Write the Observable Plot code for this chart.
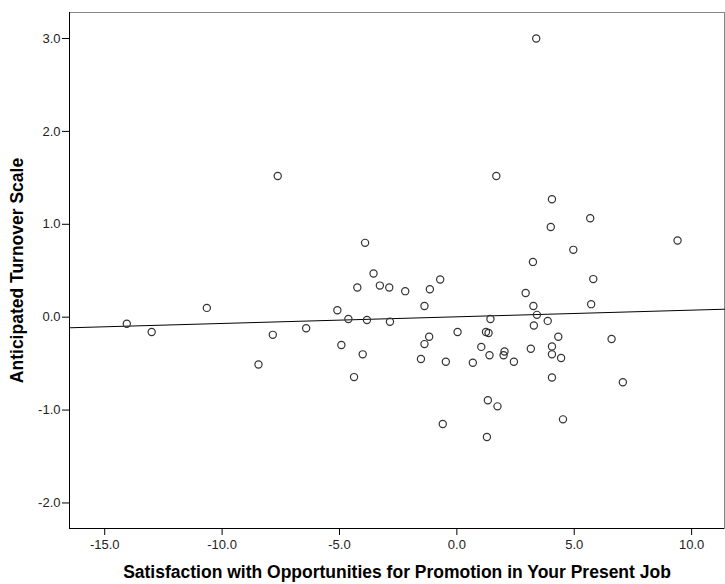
<!DOCTYPE html>
<html>
<head>
<meta charset="utf-8">
<script src="https://cdn.jsdelivr.net/npm/d3@7"></script>
<script src="https://cdn.jsdelivr.net/npm/@observablehq/plot@0.6"></script>
<style>
  html, body { margin: 0; padding: 0; background: #fff; }
</style>
</head>
<body>
<div id="chart"></div>
<script>
// Satisfaction with Opportunities for Promotion (x) vs Anticipated Turnover Scale (y)
const satisfaction = [
  -14.06, -13.0, -10.65, -7.63, -7.84, -8.45, -6.42,
  -5.09, -4.92, -4.62, -4.38, -4.01, -3.83, -2.85, -4.24, -3.91, -3.55, -3.28, -2.88, -2.20,
  -0.71, -1.15, -1.38, -1.18, -1.38, -1.53, -0.47, -0.60, 0.03, 0.68, 1.04, 1.24, 1.35, 1.43,
  1.39, 2.03, 1.99, 2.43, 1.32, 1.73, 1.28, 1.68, 3.38,
  2.93, 3.26, 3.41, 3.28, 3.87, 3.15, 4.32, 4.05, 4.05, 4.44, 4.05, 4.52, 7.07, 6.59, 5.72,
  5.81, 3.24, 4.96, 4.0, 5.68, 4.05, 9.40
];
const turnover = [
  -0.07, -0.16, 0.10, 1.52, -0.19, -0.51, -0.12,
  0.075, -0.30, -0.02, -0.645, -0.40, -0.03, -0.05, 0.32, 0.80, 0.47, 0.34, 0.32, 0.28,
  0.405, 0.30, 0.12, -0.21, -0.29, -0.45, -0.48, -1.15, -0.16, -0.49, -0.32, -0.16, -0.17, -0.02,
  -0.41, -0.37, -0.41, -0.48, -0.895, -0.96, -1.29, 1.52, 3.0,
  0.26, 0.12, 0.025, -0.09, -0.04, -0.34, -0.21, -0.315, -0.40, -0.44, -0.65, -1.10, -0.70, -0.235, 0.14,
  0.41, 0.595, 0.725, 0.97, 1.065, 1.27, 0.825
];
const xTicks = [-15, -10, -5, 0, 5, 10];
const yTicks = [-2, -1, 0, 1, 2, 3];
const xDomain = [-16.5, 11.4];
const yDomain = [-2.275, 3.28];
const xTitle = "Satisfaction with Opportunities for Promotion in Your Present Job";
const yTitle = "Anticipated Turnover Scale";

const points = satisfaction.map((x, i) => ({x, y: turnover[i]}));

// least-squares fit line (drawn across the whole frame, like SPSS)
const mx = d3.mean(satisfaction), my = d3.mean(turnover);
const sxy = d3.sum(points, p => (p.x - mx) * (p.y - my));
const sxx = d3.sum(points, p => (p.x - mx) ** 2);
const slope = sxy / sxx, intercept = my - slope * mx;
const fit = xDomain.map(x => ({x, y: intercept + slope * x}));

const fmt = d => d.toFixed(1);

const chart = Plot.plot({
  width: 725,
  height: 584,
  marginLeft: 69,
  marginRight: 1,
  marginTop: 12,
  marginBottom: 56,
  style: {fontFamily: "'Liberation Sans', Arial, sans-serif", fontSize: "13px", color: "#222", background: "#fff"},
  x: {domain: xDomain, label: null},
  y: {domain: yDomain, label: null},
  marks: [
    Plot.frame({stroke: "#888"}),
    Plot.ruleX([xDomain[0]], {stroke: "#000"}),
    Plot.ruleY([yDomain[0]], {stroke: "#000"}),
    Plot.axisX({ticks: xTicks, tickFormat: fmt, tickSize: 7, tickPadding: 4, label: null, stroke: "#000"}),
    Plot.axisY({ticks: yTicks, tickFormat: fmt, tickSize: 7, tickPadding: 2, label: null, stroke: "#000"}),
    Plot.line(fit, {x: "x", y: "y", stroke: "#000", strokeWidth: 1}),
    Plot.dot(points, {x: "x", y: "y", r: 3.6, stroke: "#333", strokeWidth: 1.2, fill: "none"}),
    Plot.text([yTitle], {text: d => d, frameAnchor: "left", dx: -52.6, rotate: -90, textAnchor: "middle", lineAnchor: "middle", fontWeight: "bold", fontSize: 17.5, fill: "#000"}),
    Plot.text([xTitle], {text: d => d, frameAnchor: "bottom", dy: 44, textAnchor: "middle", lineAnchor: "middle", fontWeight: "bold", fontSize: 17.5, fill: "#000"})
  ]
});
document.getElementById("chart").appendChild(chart);
</script>
</body>
</html>
